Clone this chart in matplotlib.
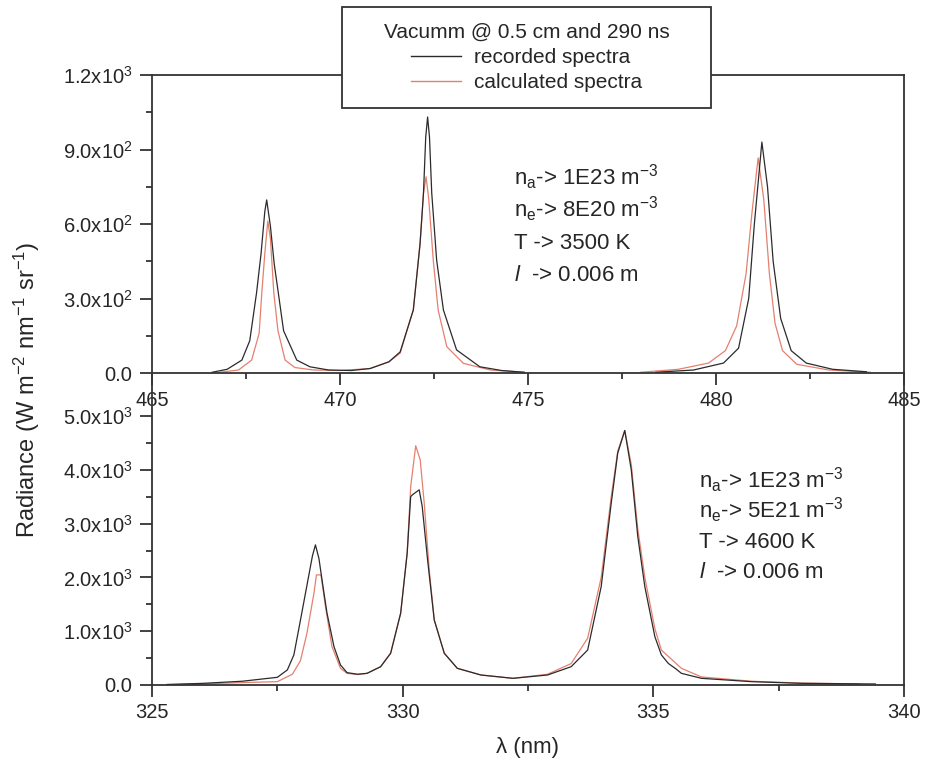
import numpy as np
import matplotlib
matplotlib.use("Agg")
import matplotlib.pyplot as plt
from matplotlib.patches import Rectangle
from matplotlib.ticker import FuncFormatter, MultipleLocator

plt.rcParams['font.family'] = ['Liberation Sans', 'DejaVu Sans']
plt.rcParams['mathtext.fontset'] = 'custom'
plt.rcParams['mathtext.rm'] = 'Liberation Sans'
plt.rcParams['mathtext.it'] = 'Liberation Sans:italic'

# top panel (465-485 nm), None breaks a line
top_rec_x = [466.6, 467.0, 467.39, 467.6, 467.78, 467.9, 468.0, 468.05, 468.15, 468.25, 468.36, 468.5,
             468.85, 469.2, 469.7, 470.3, 470.8, 471.3, 471.6, 471.95, 472.13, 472.22, 472.28, 472.33,
             472.38, 472.44, 472.57, 472.75, 473.1, 473.72, 474.3, 474.9, 476.5,
             478.4, 479.4, 480.2, 480.6, 480.87, 481.02, 481.22, 481.37, 481.52, 481.72, 482.0, 482.4,
             483.1, 484.0]
top_rec_y = [3, 15, 52, 130, 322, 480, 650, 697, 590, 440, 322, 170,
             52, 25, 12, 10, 18, 45, 85, 254, 522, 724, 950, 1031,
             950, 724, 455, 254, 93, 25, 10, 3, None,
             3, 12, 40, 100, 300, 600, 930, 750, 450, 220, 90, 40,
             15, 5]
top_calc_x = [466.8, 467.3, 467.65, 467.85, 467.92, 468.0, 468.08, 468.15, 468.24, 468.35, 468.54,
              468.8, 469.3, 470.0, 470.8, 471.3, 471.6, 471.95, 472.13, 472.22, 472.29, 472.36,
              472.48, 472.61, 472.84, 473.28, 474.0, 474.9, 476.5,
              478.0, 479.0, 479.8, 480.25, 480.55, 480.8, 480.96, 481.12, 481.27, 481.42, 481.57,
              481.77, 482.15, 483.0, 484.1]
top_calc_y = [3, 12, 52, 160, 322, 480, 612, 540, 322, 170, 52,
              22, 12, 10, 18, 45, 80, 254, 522, 724, 790, 700,
              455, 254, 106, 39, 12, 3, None,
              3, 15, 40, 90, 190, 400, 650, 866, 700, 400, 200,
              90, 35, 12, 3]

# bottom panel (325-340 nm)
bot_rec_x = [325.3, 326.0, 326.8, 327.5, 327.7, 327.83, 327.96, 328.1, 328.2, 328.26, 328.33, 328.4,
             328.49, 328.63, 328.76, 328.89, 329.1, 329.29, 329.56, 329.76, 329.96, 330.09, 330.16,
             330.2, 330.33, 330.39, 330.5, 330.63, 330.83, 331.09, 331.56, 332.2, 332.89, 333.36,
             333.69, 333.96, 334.16, 334.29, 334.43, 334.56, 334.69, 334.83, 335.03, 335.16, 335.3,
             335.45, 335.56, 335.96, 336.96, 337.96, 339.43]
bot_rec_y = [10, 30, 70, 143, 280, 560, 1200, 1900, 2400, 2605, 2350, 1900,
             1340, 713, 372, 230, 200, 217, 340, 590, 1334, 2450, 3503,
             3540, 3628, 3317, 2300, 1209, 590, 310, 186, 124, 186, 340,
             650, 1830, 3380, 4310, 4731, 4000, 2760, 1830, 900, 560, 400,
             300, 217, 124, 62, 31, 19]
bot_calc_x = [325.3, 326.0, 326.8, 327.5, 327.8, 327.96, 328.09, 328.23, 328.28, 328.37, 328.46,
              328.59, 328.76, 328.89, 329.1, 329.29, 329.56, 329.76, 329.96, 330.09, 330.16, 330.26,
              330.35, 330.43, 330.53, 330.63, 330.83, 331.09, 331.56, 332.2, 332.89, 333.36, 333.69,
              333.96, 334.16, 334.29, 334.43, 334.56, 334.69, 334.83, 335.03, 335.16, 335.56, 335.96,
              336.96, 337.96, 339.1]
bot_calc_y = [5, 20, 45, 62, 200, 450, 960, 1705, 2047, 2047, 1457,
              713, 310, 217, 195, 217, 340, 590, 1334, 2450, 3690, 4447,
              4186, 3380, 2140, 1209, 590, 310, 186, 124, 200, 398, 870,
              2000, 3500, 4350, 4731, 4100, 2900, 2000, 1050, 650, 310, 150,
              70, 35, 20]

legend_title = "Vacumm @ 0.5 cm and 290 ns"
series_labels = ["recorded spectra", "calculated spectra"]
top_params = [r"n$_\mathrm{a}$-> 1E23 m$^\mathrm{-3}$", r"n$_\mathrm{e}$-> 8E20 m$^\mathrm{-3}$",
              "T -> 3500 K", r"$l$  -> 0.006 m"]
bot_params = [r"n$_\mathrm{a}$-> 1E23 m$^\mathrm{-3}$", r"n$_\mathrm{e}$-> 5E21 m$^\mathrm{-3}$",
              "T -> 4600 K", r"$l$  -> 0.006 m"]

REC = "#2b2b2b"
CALC = "#e5806f"
INK = "#262626"


def arr(v):
    return np.array([np.nan if a is None else a for a in v], dtype=float)


def sci(v, pos):
    if v == 0:
        return "0.0"
    e = int(np.floor(np.log10(abs(v)) + 1e-9))
    return "%.1fx10$^{%d}$" % (v / 10 ** e, e)


W, H = 928, 766
fig = plt.figure(figsize=(W / 100, H / 100), dpi=100)
ax1 = fig.add_axes([152 / W, 1 - 373 / H, (904 - 152) / W, (373 - 75) / H])
ax2 = fig.add_axes([152 / W, 1 - 685 / H, (904 - 152) / W, (685 - 373) / H])

ax1.plot(top_calc_x, arr(top_calc_y), color=CALC, lw=0.9)
ax1.plot(top_rec_x, arr(top_rec_y), color=REC, lw=0.9)
l2, = ax2.plot(bot_calc_x, bot_calc_y, color=CALC, lw=0.9)
l1, = ax2.plot(bot_rec_x, bot_rec_y, color=REC, lw=0.9)

ax1.set_xlim(465, 485)
ax1.set_ylim(0, 1200)
ax1.xaxis.set_major_locator(MultipleLocator(5))
ax1.xaxis.set_minor_locator(MultipleLocator(2.5))
ax1.yaxis.set_major_locator(MultipleLocator(300))
ax1.yaxis.set_minor_locator(MultipleLocator(150))

ax2.set_xlim(325, 340)
ax2.set_ylim(0, 5800)
ax2.xaxis.set_major_locator(MultipleLocator(5))
ax2.xaxis.set_minor_locator(MultipleLocator(2.5))
ax2.set_yticks(np.arange(0, 5001, 1000))
ax2.set_yticks(np.arange(500, 5001, 1000), minor=True)
ax2.spines['top'].set_visible(False)

for ax in (ax1, ax2):
    ax.patch.set_alpha(0)
    ax.yaxis.set_major_formatter(FuncFormatter(sci))
    ax.tick_params(which='both', direction='out', top=False, right=False,
                   labelsize=14.5, colors='#333333', labelcolor=INK, width=1.3)
    ax.tick_params(which='major', length=8.6)
    ax.tick_params(which='minor', length=4.5)
    ax.tick_params(axis='y', which='major', pad=5.5)
    ax.tick_params(axis='x', which='major', pad=4)
    for s in ax.spines.values():
        s.set_linewidth(1.3)
        s.set_color('#333333')

for i, t in enumerate(top_params):
    fig.text(514 / W, 1 - (185 + 32 * i) / H, t, fontsize=16, color=INK, va='baseline')
for i, t in enumerate(bot_params):
    fig.text(699 / W, 1 - (488 + 30 * i) / H, t, fontsize=16, color=INK, va='baseline')

fig.text(27 / W, 1 - 390 / H, r"Radiance (W m$^\mathrm{-2}$ nm$^\mathrm{-1}$ sr$^\mathrm{-1}$)",
         rotation=90, fontsize=17, color=INK, ha='center', va='center')
fig.text(528 / W, 1 - 748 / H, "λ (nm)", fontsize=16, color=INK, ha='center', va='center')

# legend frame drawn separately (box is wider than its content)
bx0, bx1, by0, by1 = 342, 711, 7, 108
fig.patches.append(Rectangle((bx0 / W, 1 - by1 / H), (bx1 - bx0) / W, (by1 - by0) / H,
                             transform=fig.transFigure, facecolor='white',
                             edgecolor='#333333', lw=1.3, zorder=3))
leg = fig.legend([l1, l2], series_labels, title=legend_title, loc='center',
                 bbox_to_anchor=((bx0 + bx1) / 2 / W, 1 - (by0 + by1) / 2 / H),
                 fontsize=15, title_fontsize=15, frameon=False,
                 handlelength=2.4, handletextpad=0.6, labelspacing=0.3,
                 alignment='center', borderaxespad=0)
leg.set_zorder(4)
for line in leg.get_lines():
    line.set_linewidth(1.0)
for txt in leg.get_texts():
    txt.set_color(INK)
leg.get_title().set_color(INK)

fig.savefig("out.png", dpi=100, facecolor='white')
